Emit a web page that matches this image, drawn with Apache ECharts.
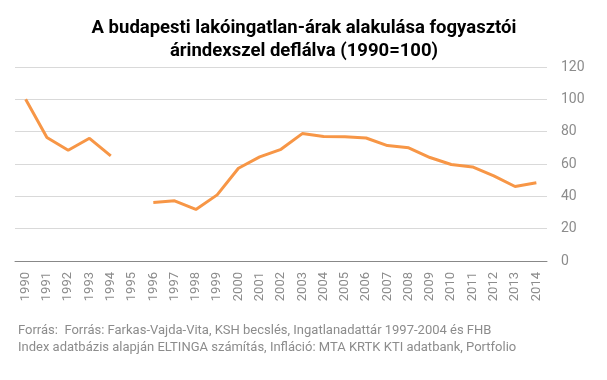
<!DOCTYPE html>
<html><head><meta charset="utf-8">
<script src="https://cdn.jsdelivr.net/npm/echarts@6/dist/echarts.min.js"></script>
<style>html,body{margin:0;padding:0;background:#fff}#c{width:607px;height:380px}</style>
</head><body><div id="c"></div>
<script>
const years = ['1990','1991','1992','1993','1994','1995','1996','1997','1998','1999','2000','2001','2002','2003','2004','2005','2006','2007','2008','2009','2010','2011','2012','2013','2014'];
const priceIndex = [100, 76.4, 68.5, 75.9, 65, null, 36.2, 37.2, 31.9, 40.9, 57.4, 64.4, 69.1, 78.8, 77, 76.8, 76.1, 71.4, 70, 64, 59.7, 58.2, 52.7, 46.1, 48.4];
const titleText = 'A budapesti lakóingatlan-árak alakulása fogyasztói\nárindexszel deflálva (1990=100)';
const sourceLines = ['Forrás:  Forrás: Farkas-Vajda-Vita, KSH becslés, Ingatlanadattár 1997-2004 és FHB', 'Index adatbázis alapján ELTINGA számítás, Infláció: MTA KRTK KTI adatbank, Portfolio'];

const chart = echarts.init(document.getElementById('c'), null, {renderer: 'canvas'});
chart.setOption({
  animation: false,
  textStyle: {fontFamily: 'Roboto'},
  title: {
    text: titleText,
    left: 299, top: 12, textAlign: 'center',
    textStyle: {fontFamily: 'Roboto', fontWeight: 'bold', fontSize: 18.5, color: '#000', lineHeight: 23}
  },
  grid: {left: 15, right: 60, top: 67, bottom: 119, containLabel: false},
  xAxis: {
    type: 'category', data: years, boundaryGap: true,
    axisLine: {show: true, lineStyle: {color: '#888', width: 1}},
    axisTick: {show: false},
    axisLabel: {rotate: 90, color: '#8c8c8c', fontSize: 13, margin: 11, interval: 0}
  },
  yAxis: {
    type: 'value', position: 'right', min: 0, max: 120, interval: 20,
    axisLine: {show: false}, axisTick: {show: false},
    splitLine: {lineStyle: {color: '#d9d9d9', width: 1}},
    axisLabel: {color: '#8c8c8c', fontSize: 14, margin: 14}
  },
  series: [{
    type: 'line', data: priceIndex, connectNulls: false, symbol: 'none',
    lineStyle: {color: '#F79646', width: 3}, itemStyle: {color: '#F79646'}
  }],
  graphic: [
    {type: 'text', left: 18, top: 324, style: {text: sourceLines[0], fill: '#8c8c8c', font: '13px Roboto'}},
    {type: 'text', left: 18, top: 341, style: {text: sourceLines[1], fill: '#8c8c8c', font: '13px Roboto'}}
  ]
});
</script></body></html>
